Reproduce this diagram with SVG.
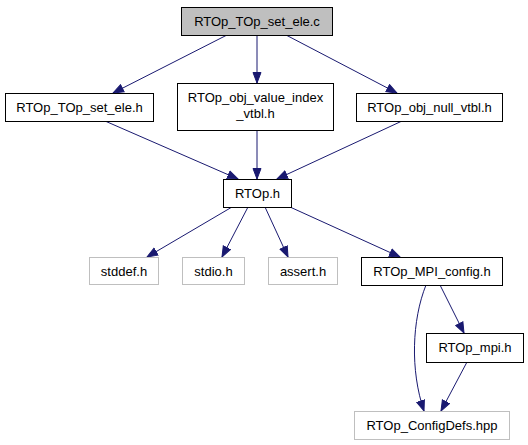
<svg xmlns="http://www.w3.org/2000/svg" width="528" height="445" viewBox="0 0 528 445">
<defs>
<style>
.n{fill:#fff;stroke:#000;stroke-width:1}
.g{fill:#fff;stroke:#bfbfbf;stroke-width:1}
.t{font-family:"Liberation Sans",Arial,sans-serif;font-size:13px;text-anchor:middle;fill:#000}
.e{fill:none;stroke:#191970;stroke-width:1;marker-end:url(#a)}
</style>
<marker id="a" markerUnits="userSpaceOnUse" markerWidth="12" markerHeight="10" refX="11" refY="5" orient="auto" viewBox="0 0 12 10">
<path d="M0.5,1 L11,5 L0.5,9 z" fill="#191970" stroke="#191970"/>
</marker>
</defs>
<rect width="528" height="445" fill="#fff"/>
<g id="edges">
<path class="e" d="M227,35 L113,93"/>
<path class="e" d="M257,35 L257,83"/>
<path class="e" d="M286,35 L397,93"/>
<path class="e" d="M105,121 L238,179"/>
<path class="e" d="M257,130 L257,179"/>
<path class="e" d="M402,121 L277,179"/>
<path class="e" d="M232,207 L147,257"/>
<path class="e" d="M248,207 L222,257"/>
<path class="e" d="M265,207 L288,257"/>
<path class="e" d="M290,207 L400,257"/>
<path class="e" d="M426,285 C412,320 410,370 424,411"/>
<path class="e" d="M440,285 L464,333"/>
<path class="e" d="M467,362 L441,411"/>
</g>
<g id="n_top"><rect x="181.5" y="7.5" width="151" height="28" fill="#bfbfbf" stroke="#000"/><text class="t" x="257" y="26">RTOp_TOp_set_ele.c</text></g>
<g id="n_setele"><rect class="n" x="5.5" y="93.5" width="148" height="28"/><text class="t" x="79.5" y="112">RTOp_TOp_set_ele.h</text></g>
<g id="n_valueidx"><rect class="n" x="177.5" y="83.5" width="156" height="47"/><text class="t" x="255.5" y="102">RTOp_obj_value_index</text><text class="t" x="255.5" y="118">_vtbl.h</text></g>
<g id="n_null"><rect class="n" x="356.5" y="93.5" width="146" height="28"/><text class="t" x="429.5" y="112">RTOp_obj_null_vtbl.h</text></g>
<g id="n_rtop"><rect class="n" x="223.5" y="179.5" width="68" height="28"/><text class="t" x="257.5" y="198">RTOp.h</text></g>
<g id="n_stddef"><rect class="g" x="89.5" y="257.5" width="69" height="27"/><text class="t" x="124" y="276">stddef.h</text></g>
<g id="n_stdio"><rect class="g" x="182.5" y="257.5" width="62" height="27"/><text class="t" x="213.5" y="276">stdio.h</text></g>
<g id="n_assert"><rect class="g" x="268.5" y="257.5" width="69" height="27"/><text class="t" x="303" y="276">assert.h</text></g>
<g id="n_mpiconfig"><rect class="n" x="361.5" y="257.5" width="141" height="28"/><text class="t" x="432" y="276">RTOp_MPI_config.h</text></g>
<g id="n_mpi"><rect class="n" x="426.5" y="333.5" width="97" height="29"/><text class="t" x="475" y="352">RTOp_mpi.h</text></g>
<g id="n_configdefs"><rect class="g" x="354.5" y="411.5" width="155" height="28"/><text class="t" x="432" y="430">RTOp_ConfigDefs.hpp</text></g>
</svg>
